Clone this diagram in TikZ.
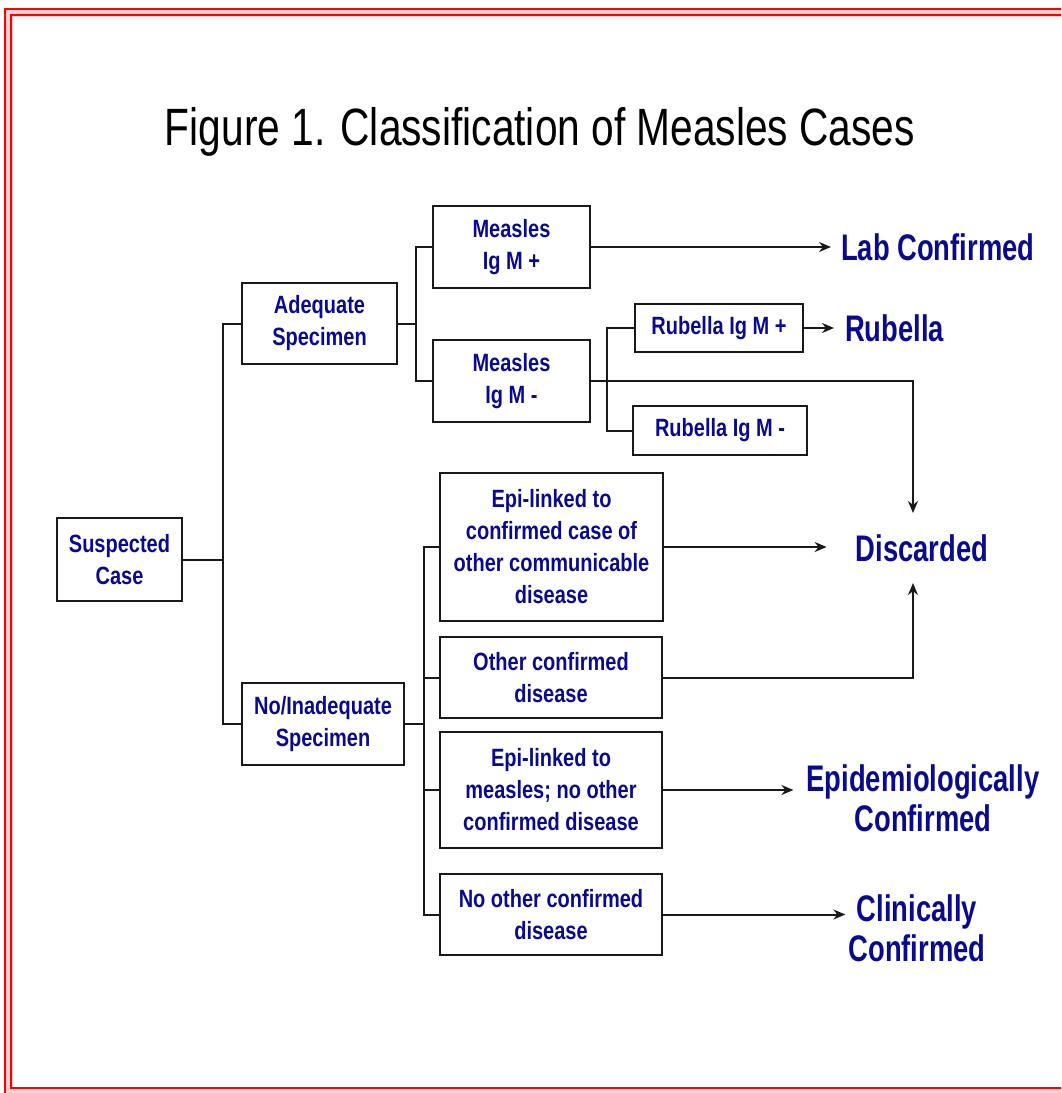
\documentclass[tikz,border=0pt]{standalone}
\usepackage{fontspec}
\setmainfont{Liberation Sans}
\newfontfamily\titlefont{Liberation Sans}[FakeStretch=0.775]
\newfontfamily\boxfont{Liberation Sans}[FakeStretch=0.8]
\newfontfamily\outfont{Liberation Sans}[FakeStretch=0.74]
\usetikzlibrary{arrows.meta}
\definecolor{navytext}{RGB}{10,10,140}
\definecolor{linegray}{RGB}{25,25,25}
\begin{document}
\begin{tikzpicture}[x=1pt,y=-1pt,
  bx/.style={draw=linegray, line width=1.8pt, inner sep=0pt, align=center,
    text=navytext, font=\boxfont\bfseries\fontsize{25}{32}\selectfont},
  outcome/.style={inner sep=0pt, align=center, text=navytext,
    font=\outfont\bfseries\fontsize{37}{40}\selectfont},
  conn/.style={draw=linegray, line width=2pt},
  arr/.style={conn, -{Stealth[length=12pt,width=10pt]}}
]
\useasboundingbox (0,0) rectangle (1061,1093);
\clip (0,0) rectangle (1061,1093);
% red double frame
\draw[red!18, line width=9pt] (8,12) rectangle (1072,1091);
\draw[red, line width=2.5pt] (5,9) rectangle (1075,1094);
\draw[red, line width=2.5pt] (11,15) rectangle (1069,1088);

% title
\node[anchor=base, inner sep=0pt, font=\titlefont\fontsize{52.5}{60}\selectfont] (title) at (540,145) {Figure 1. Classification of Measles Cases};

% boxes
\node[bx, minimum width=125pt, minimum height=83pt] (susp) at (119.5,559.5) {Suspected\\Case};
\node[bx, minimum width=155pt, minimum height=81pt] (adeq) at (319.5,323.5) {Adequate\\Specimen};
\node[bx, minimum width=162pt, minimum height=82pt] (noadeq) at (323,724) {No/Inadequate\\Specimen};
\node[bx, minimum width=157pt, minimum height=82pt] (mpos) at (511.5,247) {Measles\\Ig M +};
\node[bx, minimum width=157pt, minimum height=82pt] (mneg) at (511.5,381) {Measles\\Ig M -};
\node[bx, minimum width=168pt, minimum height=48pt] (rpos) at (719,328) {Rubella Ig M +};
\node[bx, minimum width=174pt, minimum height=49pt] (rneg) at (720,430.5) {Rubella Ig M -};
\node[bx, minimum width=223pt, minimum height=148pt] (epione) at (551.5,547) {Epi-linked to\\confirmed case of\\other communicable\\disease};
\node[bx, minimum width=222pt, minimum height=81pt] (other) at (551,677.5) {Other confirmed\\disease};
\node[bx, minimum width=222pt, minimum height=116pt] (epitwo) at (551,790) {Epi-linked to\\measles; no other\\confirmed disease};
\node[bx, minimum width=222pt, minimum height=81pt] (noother) at (551,914.5) {No other confirmed\\disease};

% outcomes
\node[outcome, anchor=west] (lab) at (841,247) {Lab Confirmed};
\node[outcome, anchor=west] (rub) at (845,328) {Rubella};
\node[outcome, minimum height=70pt] (disc) at (922,548) {Discarded};
\node[outcome] (epic) at (923,798) {Epidemiologically\\Confirmed};
\node[outcome] (clin) at (917,928) {Clinically\\Confirmed};

% bus coordinates
\coordinate (b1) at (223,559.5);
\coordinate (b2) at (416,323.5);
\coordinate (b3) at (607,381);
\coordinate (b4) at (424,724);
\coordinate (dtop) at (913,513);
\coordinate (dbot) at (913,583);

% tree connectors
\draw[conn] (susp.east) -- (b1);
\draw[conn] (adeq.west) -| (b1) |- (noadeq.west);
\draw[conn] (adeq.east) -- (b2);
\draw[conn] (mpos.west) -| (b2) |- (mneg.west);
\draw[conn] (rpos.west) -| (b3) |- (rneg.west);
\draw[conn] (noadeq.east) -- (b4);
\draw[conn] (epione.west) -| (b4) |- (noother.west);
\draw[conn] (other.west) -| (b4);
\draw[conn] (epitwo.west) -| (b4);

% arrows to outcomes
\draw[arr, shorten >=10pt] (mpos.east) -- (lab.west);
\draw[arr, shorten >=11pt] (rpos.east) -- (rub.west);
\draw[arr] (mneg.east) -| (dtop);
\draw[arr, shorten >=29pt] (epione.east) -- (epione.east -| disc.west);
\draw[arr] (other.east) -| (dbot);
\draw[arr, shorten >=13pt] (epitwo.east) -- (epitwo.east -| epic.west);
\draw[arr, shorten >=3pt] (noother.east) -- (noother.east -| clin.west);
\end{tikzpicture}
\end{document}
